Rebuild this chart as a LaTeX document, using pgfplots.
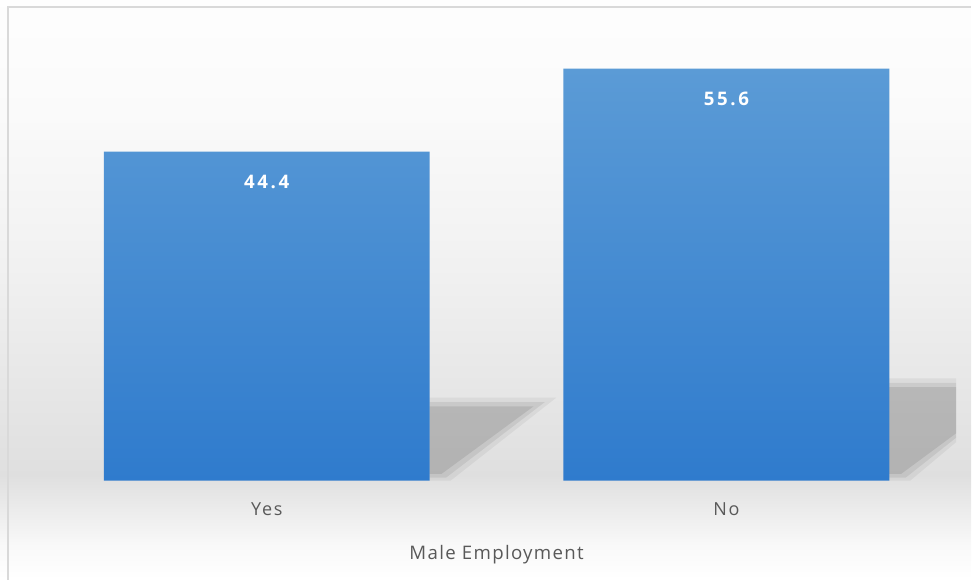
\documentclass[border=0pt]{standalone}
\usepackage{pgfplots}
\pgfplotsset{compat=1.18}
\usepackage{fontspec}
\setmainfont{Open Sans}
\newfontfamily\lblfont[LetterSpace=10]{Open Sans}
\newfontfamily\numfont[LetterSpace=14]{Open Sans}
\newfontfamily\ttlfont[LetterSpace=7]{Open Sans}
\definecolor{txtgray}{HTML}{595959}
\definecolor{bartop}{HTML}{5B9BD6}
\definecolor{barbot}{HTML}{2F7BCD}
\definecolor{framegray}{HTML}{D9D9D9}
\pgfdeclareverticalshading{bgshade}{100bp}{rgb(0bp)=(1,1,1); rgb(25bp)=(1,1,1); rgb(28bp)=(0.975,0.975,0.975); rgb(34bp)=(0.875,0.875,0.875); rgb(52bp)=(0.945,0.945,0.945); rgb(65bp)=(0.98,0.98,0.98); rgb(75bp)=(0.995,0.995,0.995); rgb(100bp)=(0.995,0.995,0.995)}
\begin{document}
\begin{tikzpicture}
\shade[shading=bgshade] (0pt,0pt) rectangle (729pt,435pt);
\draw[framegray, line width=1.2pt] (6pt,0pt) -- (6pt,429.75pt) -- (729pt,429.75pt);
\begin{axis}[
  at={(27.75pt,74.25pt)}, anchor=south west,
  scale only axis,
  width=690pt, height=333.75pt,
  xmin=-0.5, xmax=1.5, ymin=0, ymax=60,
  axis line style={draw=none},
  ytick=\empty,
  xtick={0,1}, xticklabels={Yes,No},
  major tick length=0pt,
  xticklabel style={anchor=center, yshift=-21.5pt, font=\lblfont\fontsize{13.5}{15}\selectfont, text=txtgray},
  xlabel={Male Employment},
  xlabel style={at={(axis description cs:0.5,0)}, anchor=center, yshift=-55.5pt, text=txtgray, font=\ttlfont\fontsize{14}{16}\selectfont},
  ybar, bar width=0.709,
  nodes near coords,
  /pgf/number format/assume math mode=true,
  /pgf/number format/fixed, /pgf/number format/precision=1,
  nodes near coords style={anchor=center, yshift=-23pt, text=white, font=\numfont\bfseries\fontsize{14}{16}\selectfont},
]
% soft perspective shadows (decoration)
\fill[black, fill opacity=0.05] (axis cs:0.354,11.2) -- (axis cs:0.63,11.2) -- (axis cs:0.40,0.0) -- (axis cs:0.354,0.0) -- cycle;
\fill[black, fill opacity=0.07] (axis cs:0.354,10.6) -- (axis cs:0.605,10.6) -- (axis cs:0.39,0.4) -- (axis cs:0.354,0.4) -- cycle;
\fill[black, fill opacity=0.09] (axis cs:0.354,10.0) -- (axis cs:0.58,10.0) -- (axis cs:0.38,0.9) -- (axis cs:0.354,0.9) -- cycle;
\fill[black, fill opacity=0.05] (axis cs:1.354,13.8) -- (axis cs:1.5,13.8) -- (axis cs:1.5,5.2) -- (axis cs:1.40,0.0) -- (axis cs:1.354,0.0) -- cycle;
\fill[black, fill opacity=0.07] (axis cs:1.354,13.2) -- (axis cs:1.5,13.2) -- (axis cs:1.5,5.8) -- (axis cs:1.39,0.4) -- (axis cs:1.354,0.4) -- cycle;
\fill[black, fill opacity=0.09] (axis cs:1.354,12.6) -- (axis cs:1.5,12.6) -- (axis cs:1.5,6.4) -- (axis cs:1.38,0.9) -- (axis cs:1.354,0.9) -- cycle;
\addplot[draw=none, top color=bartop, bottom color=barbot] coordinates {(0,44.4) (1,55.6)};
\end{axis}
\end{tikzpicture}
\end{document}
